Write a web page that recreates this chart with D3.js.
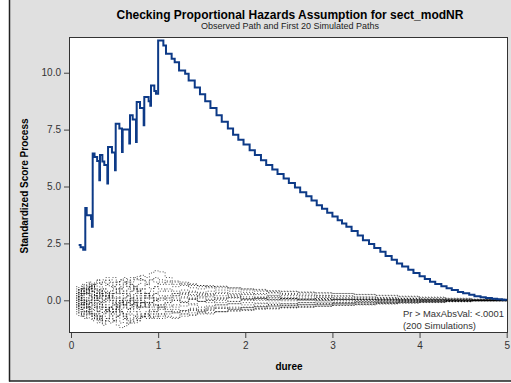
<!DOCTYPE html>
<html><head><meta charset="utf-8">
<script src="https://cdn.jsdelivr.net/npm/d3@7"></script>
<style>
html,body{margin:0;padding:0;background:#fff;}
text{font-family:"Liberation Sans",Arial,sans-serif;}
</style></head>
<body>
<svg id="c" width="511" height="383"></svg>
<script>
// ---- data ----
const title = "Checking Proportional Hazards Assumption for sect_modNR";
const subtitle = "Observed Path and First 20 Simulated Paths";
const xLabel = "duree";
const yLabel = "Standardized Score Process";
const xTicks = [0, 1, 2, 3, 4, 5];
const yTicks = [0, 2.5, 5, 7.5, 10];
const annot = ["Pr > MaxAbsVal: <.0001", "(200 Simulations)"];

// observed path (step after)
const obsT = [0.088,0.11,0.14,0.164,0.18,0.23,0.24,0.249,0.27,0.30,0.325,0.333,0.36,0.382,0.417,0.425,0.47,0.505,0.513,0.555,0.585,0.593,0.669,0.677,0.708,0.746,0.754,0.792,0.834,0.841,0.891,0.910,0.918,0.956,0.975,1.0,1.06,1.09,1.155,1.19,1.24,1.31,1.35,1.42,1.48,1.54,1.60,1.67,1.73,1.80,1.86,1.92,1.98,2.05,2.11,2.18,2.24,2.31,2.37,2.44,2.50,2.57,2.63,2.70,2.76,2.82,2.88,2.94,3.00,3.06,3.11,3.16,3.22,3.29,3.35,3.42,3.48,3.55,3.61,3.68,3.74,3.80,3.87,3.93,4.00,4.06,4.12,4.18,4.25,4.31,4.37,4.44,4.50,4.57,4.63,4.70,4.76,4.83,4.89,4.95,5.00];
const obsV = [2.43,2.33,2.22,4.06,3.74,3.57,3.23,6.45,6.3,6.12,5.28,6.38,6.1,5.95,5.13,6.74,6.5,5.71,7.76,7.55,6.52,7.5,6.89,8.13,7.95,6.96,8.71,8.45,7.69,8.93,8.75,8.55,9.44,9.2,9.08,11.42,11.2,10.83,10.61,10.46,10.1,9.96,9.66,9.35,9.05,8.75,8.45,8.13,7.85,7.55,7.28,7.05,6.85,6.59,6.38,6.15,5.95,5.75,5.55,5.35,5.15,4.96,4.75,4.57,4.38,4.18,4.02,3.85,3.68,3.52,3.37,3.23,3.05,2.85,2.64,2.47,2.30,2.13,1.95,1.78,1.62,1.48,1.34,1.20,1.06,0.94,0.82,0.72,0.62,0.53,0.45,0.37,0.31,0.24,0.18,0.13,0.10,0.07,0.05,0.02,0.0];

// simulated paths (common time grid)
const simT = [0.06,0.09,0.12,0.15,0.18,0.21,0.24,0.27,0.30,0.33,0.36,0.40,0.44,0.48,0.52,0.56,0.60,0.64,0.68,0.72,0.76,0.80,0.85,0.90,0.95,1.00,
              1.08,1.16,1.25,1.35,1.45,1.55,1.65,1.80,1.95,2.10,2.25,2.40,2.60,2.80,3.00,3.25,3.50,3.75,4.00,4.30,4.60,5.00];
const sim01 = [0.1,0.3,0.2,0.4,0.3,0.5,0.4,0.2,0.4,0.6,0.5,0.7,0.6,0.8,0.7,0.9,0.8,0.6,0.8,1.0,0.9,1.1,1.0,1.2,1.3,1.25,
               1.0,0.85,0.8,0.7,0.65,0.6,0.55,0.5,0.45,0.4,0.35,0.3,0.28,0.22,0.2,0.15,0.12,0.1,0.07,0.05,0.02,0];
const sim02 = [-0.2,-0.4,-0.3,-0.5,-0.6,-0.5,-0.7,-0.6,-0.8,-0.7,-0.9,-0.8,-1.0,-0.9,-1.1,-1.2,-1.15,-1.0,-0.9,-1.0,-0.8,-0.7,-0.8,-0.6,-0.5,-0.6,
               -0.5,-0.55,-0.45,-0.4,-0.45,-0.35,-0.3,-0.35,-0.3,-0.25,-0.2,-0.22,-0.18,-0.15,-0.12,-0.1,-0.08,-0.06,-0.05,-0.03,-0.01,0];
const sim03 = [0.4,0.2,0.5,0.3,0.6,0.4,0.7,0.5,0.3,0.5,0.2,0.4,0.1,0.3,0.5,0.3,0.4,0.2,0.4,0.6,0.4,0.5,0.7,0.5,0.6,0.8,
               0.7,0.6,0.65,0.55,0.5,0.55,0.45,0.4,0.35,0.3,0.32,0.25,0.22,0.2,0.18,0.14,0.1,0.08,0.06,0.04,0.02,0];
const sim04 = [-0.1,0.1,-0.2,0.0,-0.3,-0.1,-0.4,-0.2,-0.5,-0.3,-0.6,-0.4,-0.3,-0.5,-0.7,-0.5,-0.6,-0.8,-0.6,-0.7,-0.5,-0.7,-0.6,-0.4,-0.5,-0.3,
               -0.4,-0.5,-0.6,-0.55,-0.5,-0.45,-0.5,-0.4,-0.42,-0.35,-0.3,-0.32,-0.28,-0.25,-0.22,-0.2,-0.16,-0.12,-0.1,-0.06,-0.03,0];
const sim05 = [0.2,0.0,0.3,0.5,0.3,0.6,0.4,0.7,0.9,0.7,0.8,1.0,0.8,0.6,0.8,0.5,0.7,0.9,0.7,0.5,0.3,0.5,0.3,0.1,0.3,0.2,
               0.1,0.2,0.3,0.25,0.15,0.2,0.1,0.15,0.05,0.1,0.12,0.08,0.05,0.08,0.04,0.05,0.03,0.02,0.02,0.01,0,0];
const sim06 = [-0.5,-0.7,-0.5,-0.8,-0.6,-0.4,-0.6,-0.3,-0.5,-0.7,-0.5,-0.3,-0.5,-0.6,-0.4,-0.6,-0.8,-0.6,-0.4,-0.2,-0.4,-0.3,-0.1,-0.3,-0.2,-0.4,
               -0.3,-0.2,-0.1,-0.15,-0.05,-0.1,-0.2,-0.15,-0.1,-0.12,-0.18,-0.15,-0.1,-0.12,-0.08,-0.06,-0.07,-0.05,-0.04,-0.02,-0.01,0];
const sim07 = [0.3,0.5,0.7,0.5,0.8,0.6,0.4,0.2,0.0,-0.2,0.0,0.2,0.0,-0.2,0.1,-0.1,0.1,0.3,0.1,0.3,0.5,0.3,0.1,0.2,0.0,0.1,
               0.2,0.3,0.25,0.35,0.3,0.25,0.3,0.2,0.25,0.15,0.2,0.12,0.1,0.12,0.08,0.06,0.05,0.04,0.03,0.02,0.01,0];
const sim08 = [-0.3,-0.5,-0.7,-0.5,-0.3,-0.6,-0.8,-0.6,-0.9,-0.7,-1.0,-0.8,-0.6,-0.9,-0.7,-0.5,-0.7,-0.9,-1.0,-0.8,-0.9,-0.7,-0.5,-0.7,-0.8,-0.6,
               -0.7,-0.75,-0.6,-0.65,-0.55,-0.6,-0.5,-0.45,-0.4,-0.35,-0.38,-0.3,-0.3,-0.25,-0.2,-0.18,-0.14,-0.1,-0.08,-0.05,-0.02,0];
const sim09 = [0.0,0.2,0.0,-0.2,0.0,0.2,0.0,0.2,-0.1,0.1,-0.1,0.1,0.3,0.1,-0.1,0.1,-0.2,0.0,-0.2,0.0,0.2,0.0,0.2,0.4,0.6,0.5,
               0.4,0.3,0.35,0.2,0.25,0.3,0.2,0.25,0.15,0.1,0.15,0.08,0.05,0.02,0.04,0.03,0.02,0.01,0.01,0,0,0];
const sim10 = [0.5,0.3,0.5,0.7,0.5,0.8,0.6,0.8,0.9,0.7,0.9,0.7,0.9,1.0,0.8,0.9,1.0,0.8,1.0,0.9,1.05,0.9,0.8,0.9,0.8,0.7,
               0.8,0.7,0.75,0.65,0.6,0.65,0.6,0.55,0.5,0.45,0.4,0.38,0.35,0.32,0.3,0.25,0.2,0.16,0.12,0.08,0.04,0];
const sim11 = [-0.4,-0.2,-0.4,-0.1,-0.3,0.0,-0.2,0.0,-0.3,-0.1,-0.3,-0.5,-0.3,-0.1,-0.3,0.0,-0.2,-0.4,-0.2,-0.1,-0.3,-0.1,-0.3,-0.5,-0.4,-0.3,
               -0.5,-0.4,-0.45,-0.35,-0.4,-0.3,-0.35,-0.3,-0.32,-0.28,-0.25,-0.25,-0.2,-0.18,-0.15,-0.12,-0.1,-0.08,-0.06,-0.04,-0.02,0];
const sim12 = [0.2,0.0,-0.2,0.0,-0.3,-0.1,0.1,0.3,0.1,0.3,0.0,-0.2,0.0,-0.2,-0.4,-0.2,0.0,-0.1,0.1,-0.1,-0.3,-0.1,-0.3,-0.1,0.0,-0.2,
               -0.1,0.0,-0.1,0.05,-0.05,0.0,-0.1,-0.05,0.0,0.05,-0.02,0.03,0.0,-0.02,0.02,0.0,0.01,0.0,0,0,0,0];
const sim13 = [-0.6,-0.4,-0.7,-0.5,-0.8,-0.6,-0.9,-0.7,-1.0,-0.8,-1.1,-0.9,-0.7,-0.9,-0.7,-1.0,-0.8,-1.05,-0.85,-0.7,-0.9,-0.75,-0.6,-0.75,-0.6,-0.7,
               -0.6,-0.55,-0.5,-0.45,-0.5,-0.4,-0.35,-0.4,-0.32,-0.28,-0.25,-0.22,-0.2,-0.18,-0.15,-0.12,-0.1,-0.08,-0.06,-0.04,-0.02,0];
const sim14 = [0.6,0.4,0.6,0.3,0.5,0.2,0.4,0.2,0.0,0.2,0.4,0.2,0.4,0.6,0.4,0.6,0.8,0.6,0.4,0.6,0.4,0.2,0.3,0.1,0.0,0.1,
               0.0,0.1,-0.05,0.05,0.1,0.0,0.05,0.1,0.05,0.08,0.03,0.06,0.02,0.04,0.02,0.03,0.01,0.01,0.01,0,0,0];
const sim15 = [-0.1,-0.3,-0.1,-0.3,-0.5,-0.3,-0.1,-0.3,-0.5,-0.4,-0.2,-0.4,-0.6,-0.4,-0.2,-0.4,-0.2,0.0,-0.2,-0.1,0.1,-0.1,-0.2,-0.1,-0.2,-0.3,
               -0.2,-0.3,-0.25,-0.2,-0.3,-0.25,-0.2,-0.15,-0.2,-0.15,-0.12,-0.15,-0.1,-0.08,-0.1,-0.06,-0.05,-0.04,-0.03,-0.02,-0.01,0];
const sim16 = [0.3,0.5,0.3,0.1,0.3,0.5,0.7,0.5,0.3,0.1,0.3,0.1,0.3,0.5,0.3,0.5,0.3,0.5,0.7,0.5,0.7,0.9,0.7,0.9,1.0,0.9,
               0.85,0.8,0.7,0.72,0.65,0.6,0.62,0.55,0.5,0.48,0.42,0.4,0.36,0.33,0.3,0.26,0.22,0.18,0.14,0.09,0.05,0];
const sim17 = [-0.2,0.0,0.2,0.0,-0.2,0.0,0.2,0.0,0.2,0.4,0.2,0.0,0.2,0.0,-0.2,0.0,-0.2,-0.4,-0.2,-0.3,-0.1,-0.3,-0.1,-0.2,-0.3,-0.2,
               -0.1,0.0,0.1,0.05,-0.05,0.05,0.0,-0.05,0.05,0.0,0.03,-0.02,0.02,0.0,0.01,0.02,0.0,0.01,0,0,0,0];
const sim18 = [0.0,-0.2,-0.4,-0.2,-0.5,-0.3,-0.6,-0.8,-0.6,-0.9,-0.7,-0.5,-0.3,-0.5,-0.3,-0.5,-0.7,-0.5,-0.3,-0.5,-0.7,-0.6,-0.7,-0.8,-0.7,-0.8,
               -0.75,-0.8,-0.7,-0.65,-0.6,-0.55,-0.5,-0.48,-0.45,-0.4,-0.36,-0.33,-0.3,-0.27,-0.22,-0.18,-0.15,-0.12,-0.09,-0.06,-0.03,0];
const sim19 = [0.1,0.3,0.5,0.3,0.5,0.7,0.5,0.7,0.5,0.3,0.5,0.3,0.1,0.3,0.1,0.3,0.1,0.2,0.0,0.2,0.0,0.1,0.3,0.2,0.3,0.4,
               0.5,0.4,0.45,0.4,0.35,0.4,0.35,0.3,0.28,0.25,0.22,0.2,0.18,0.15,0.12,0.1,0.08,0.06,0.04,0.03,0.01,0];
const sim20 = [-0.3,-0.1,0.1,-0.1,0.1,0.3,0.1,-0.1,-0.3,-0.1,-0.3,-0.5,-0.3,-0.5,-0.3,-0.1,-0.3,-0.1,0.1,-0.1,-0.3,-0.1,0.1,-0.1,0.1,0.0,
               0.1,0.2,0.15,0.1,0.2,0.15,0.1,0.12,0.08,0.1,0.06,0.08,0.05,0.06,0.04,0.03,0.02,0.01,0.01,0,0,0];
const simPaths = [sim01,sim02,sim03,sim04,sim05,sim06,sim07,sim08,sim09,sim10,sim11,sim12,sim13,sim14,sim15,sim16,sim17,sim18,sim19,sim20];

// ---- layout ----
const svg = d3.select("#c");
const L = 69, R = 508, T = 37, B = 333;
const x = d3.scaleLinear().domain([-0.023, 5.015]).range([L, R]);
const y = d3.scaleLinear().domain([-1.437, 11.57]).range([B, T]);

// background
svg.append("rect").attr("x", 10).attr("y", 0).attr("width", 501).attr("height", 381).attr("fill", "#e0e0e0");
svg.append("line").attr("x1", 9.5).attr("x2", 9.5).attr("y1", 0).attr("y2", 381.5).attr("stroke", "#222").attr("stroke-width", 1.5);
svg.append("line").attr("x1", 9).attr("x2", 511).attr("y1", 381).attr("y2", 381).attr("stroke", "#222").attr("stroke-width", 1.5);

svg.append("rect").attr("x", L).attr("y", T).attr("width", R - L).attr("height", B - T).attr("fill", "#fff");

// titles
svg.append("text").attr("x", 290).attr("y", 19).attr("text-anchor", "middle")
  .attr("font-size", 12).attr("font-weight", "bold").attr("fill", "#000").text(title);
svg.append("text").attr("x", 290).attr("y", 29).attr("text-anchor", "middle")
  .attr("font-size", 9).attr("fill", "#222").text(subtitle);

// clip
svg.append("clipPath").attr("id", "clip").append("rect").attr("x", L).attr("y", T).attr("width", R - L).attr("height", B - T);
const g = svg.append("g").attr("clip-path", "url(#clip)");

// simulated paths
const simLine = d3.line().defined(d => d != null && !isNaN(d))
  .x((d, i) => x(simT[i])).y(d => y(d)).curve(d3.curveStepAfter);
simPaths.forEach(p => {
  g.append("path").attr("d", simLine(p)).attr("fill", "none")
    .attr("stroke", "#000").attr("stroke-width", 0.7).attr("stroke-dasharray", "1,2");
});

// observed path
const obsLine = d3.line().x((d, i) => x(obsT[i])).y(d => y(d)).curve(d3.curveStepAfter);
g.append("path").attr("d", obsLine(obsV)).attr("fill", "none")
  .attr("stroke", "#0d3a87").attr("stroke-width", 2).attr("stroke-linejoin", "miter");

// frame
svg.append("rect").attr("x", L + 0.5).attr("y", T + 0.5).attr("width", R - L - 1).attr("height", B - T - 1)
  .attr("fill", "none").attr("stroke", "#333").attr("stroke-width", 1);

// axes
const xa = svg.append("g").attr("transform", `translate(0,${B})`)
  .call(d3.axisBottom(x).tickValues(xTicks).tickSize(5).tickPadding(4).tickFormat(d3.format("d")));
const ya = svg.append("g").attr("transform", `translate(${L},0)`)
  .call(d3.axisLeft(y).tickValues(yTicks).tickSize(5).tickPadding(3).tickFormat(d3.format(".1f")));
[xa, ya].forEach(a => {
  a.select(".domain").remove();
  a.selectAll("line").attr("stroke", "#444");
  a.selectAll("text").attr("font-size", 10).attr("fill", "#333").attr("font-family", "Liberation Sans, Arial, sans-serif");
});

// axis labels
svg.append("text").attr("x", 289).attr("y", 370).attr("text-anchor", "middle")
  .attr("font-size", 10).attr("font-weight", "bold").attr("fill", "#000").text(xLabel);
svg.append("text").attr("transform", "translate(28,186) rotate(-90)").attr("text-anchor", "middle")
  .attr("font-size", 10).attr("font-weight", "bold").attr("fill", "#000").text(yLabel);

// annotation
annot.forEach((t, i) => {
  svg.append("text").attr("x", 403).attr("y", 317 + i * 12).attr("font-size", 9.4)
    .attr("fill", "#333").text(t);
});
</script>
</body></html>
